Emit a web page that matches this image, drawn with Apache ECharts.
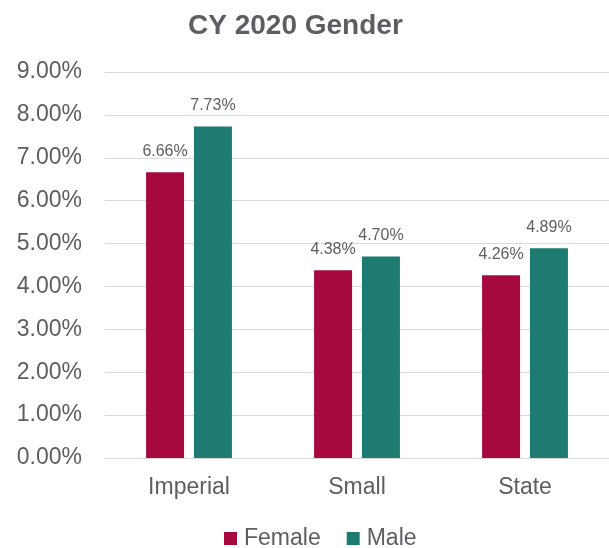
<!DOCTYPE html>
<html>
<head>
<meta charset="utf-8">
<script src="https://cdn.jsdelivr.net/npm/echarts@6/dist/echarts.min.js"></script>
<style>
  html, body { margin: 0; padding: 0; background: #fff; }
  #chart { width: 609px; height: 548px; }
</style>
</head>
<body>
<div id="chart"></div>
<script>
  var categories = ['Imperial', 'Small', 'State'];
  var female = [6.66, 4.38, 4.26];
  var male = [7.73, 4.70, 4.89];
  var yTicks = [0, 1, 2, 3, 4, 5, 6, 7, 8, 9];

  var font = '"Liberation Sans", Arial, sans-serif';
  var grey = '#5b5e63';
  var chart = echarts.init(document.getElementById('chart'));

  var labelOpt = {
    show: true,
    position: 'top',
    distance: 13,
    color: grey,
    fontSize: 16,
    fontFamily: font,
    formatter: function (p) { return p.value.toFixed(2) + '%'; }
  };

  chart.setOption({
    animation: false,
    title: {
      text: 'CY 2020 Gender',
      left: 183,
      top: 7,
      textStyle: { color: grey, fontSize: 28, fontWeight: 'bold', fontFamily: font }
    },
    legend: {
      top: 522,
      left: 219,
      itemWidth: 13,
      itemHeight: 13,
      itemGap: 26,
      icon: 'rect',
      textStyle: { color: grey, fontSize: 23, fontFamily: font, padding: [0, 0, 0, 2] }
    },
    grid: { left: 105, right: -3, top: 72, bottom: 90 },
    xAxis: {
      type: 'category',
      data: categories,
      axisLine: { lineStyle: { color: '#d9d9d9' } },
      axisTick: { show: false },
      axisLabel: { color: grey, fontSize: 23, fontFamily: font, margin: 18 }
    },
    yAxis: {
      type: 'value',
      min: yTicks[0],
      max: yTicks[yTicks.length - 1],
      interval: 1,
      axisLine: { show: false },
      axisTick: { show: false },
      splitLine: { lineStyle: { color: '#d9d9d9' } },
      axisLabel: {
        color: grey, fontSize: 23, fontFamily: font, margin: 23,
        formatter: function (v) { return v.toFixed(2) + '%'; }
      }
    },
    series: [
      {
        name: 'Female', type: 'bar', data: female,
        barWidth: 38, barGap: '26%',
        itemStyle: { color: '#A5093F' },
        label: labelOpt
      },
      {
        name: 'Male', type: 'bar', data: male,
        barWidth: 38,
        itemStyle: { color: '#1D7B72' },
        label: labelOpt
      }
    ]
  });
</script>
</body>
</html>
